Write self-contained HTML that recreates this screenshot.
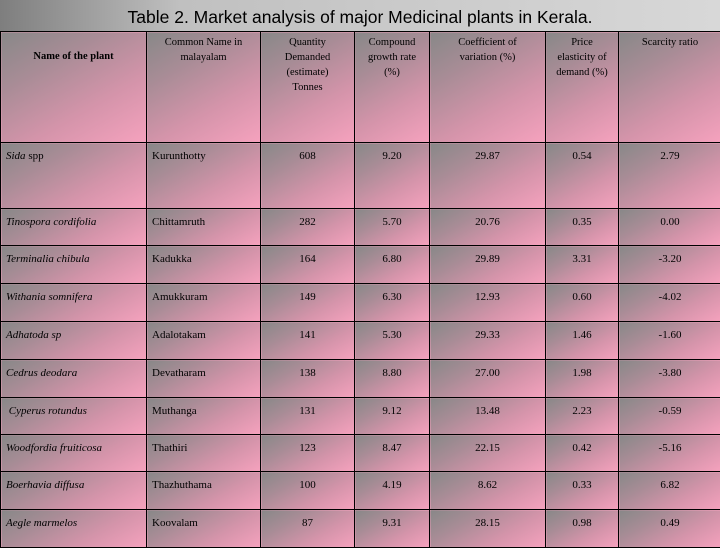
<!DOCTYPE html>
<html><head><meta charset="utf-8"><style>
body{margin:0;width:720px;height:540px;overflow:hidden;background:#f0a0b8;font-family:"Liberation Serif",serif;}
#title{position:absolute;left:0;top:0;width:720px;height:31px;background:linear-gradient(90deg,#7e7e7e 0%,#c0c0c0 25%,#d8d8d8 100%);font-family:"Liberation Sans",sans-serif;font-size:17.5px;text-align:center;line-height:34px;color:#000;}
table{position:absolute;left:0;top:31px;border-collapse:collapse;table-layout:fixed;width:721px;}
td{border:1px solid #000;background:linear-gradient(150deg,#888888 0%,#a88c96 30%,#d494aa 65%,#f6a2be 100%);font-size:11px;color:#000;vertical-align:top;padding:0;}
td.l{text-align:left;padding-left:5px;padding-top:7px;}
td.c{text-align:center;padding-top:7px;}
tr.h td{text-align:center;font-size:10.5px;line-height:15px;padding-top:3px;}
i{font-style:italic;}
</style></head><body>
<div id="title">Table 2. Market analysis of major Medicinal plants in Kerala.</div>
<table>
<colgroup><col style="width:146px"><col style="width:114px"><col style="width:94px"><col style="width:75px"><col style="width:116px"><col style="width:73px"><col style="width:103px"></colgroup>
<tr class="h" style="height:111px">
<td style="padding-top:17px"><b>Name of the plant</b></td>
<td>Common Name in<br>malayalam</td>
<td>Quantity<br>Demanded<br>(estimate)<br>Tonnes</td>
<td>Compound<br>growth rate<br>(%)</td>
<td>Coefficient of<br>variation (%)</td>
<td>Price<br>elasticity of<br>demand (%)</td>
<td>Scarcity ratio</td>
</tr>
<tr style="height:66px"><td class="l"><i>Sida</i> spp</td><td class="l">Kurunthotty</td><td class="c">608</td><td class="c">9.20</td><td class="c">29.87</td><td class="c">0.54</td><td class="c">2.79</td></tr>
<tr style="height:37px"><td class="l"><i>Tinospora cordifolia</i></td><td class="l">Chittamruth</td><td class="c">282</td><td class="c">5.70</td><td class="c">20.76</td><td class="c">0.35</td><td class="c">0.00</td></tr>
<tr style="height:38px"><td class="l"><i>Terminalia chibula</i></td><td class="l">Kadukka</td><td class="c">164</td><td class="c">6.80</td><td class="c">29.89</td><td class="c">3.31</td><td class="c">-3.20</td></tr>
<tr style="height:38px"><td class="l"><i>Withania somnifera</i></td><td class="l">Amukkuram</td><td class="c">149</td><td class="c">6.30</td><td class="c">12.93</td><td class="c">0.60</td><td class="c">-4.02</td></tr>
<tr style="height:38px"><td class="l"><i>Adhatoda sp</i></td><td class="l">Adalotakam</td><td class="c">141</td><td class="c">5.30</td><td class="c">29.33</td><td class="c">1.46</td><td class="c">-1.60</td></tr>
<tr style="height:38px"><td class="l"><i>Cedrus deodara</i></td><td class="l">Devatharam</td><td class="c">138</td><td class="c">8.80</td><td class="c">27.00</td><td class="c">1.98</td><td class="c">-3.80</td></tr>
<tr style="height:37px"><td class="l">&nbsp;<i>Cyperus rotundus</i></td><td class="l">Muthanga</td><td class="c">131</td><td class="c">9.12</td><td class="c">13.48</td><td class="c">2.23</td><td class="c">-0.59</td></tr>
<tr style="height:37px"><td class="l"><i>Woodfordia fruiticosa</i></td><td class="l">Thathiri</td><td class="c">123</td><td class="c">8.47</td><td class="c">22.15</td><td class="c">0.42</td><td class="c">-5.16</td></tr>
<tr style="height:38px"><td class="l"><i>Boerhavia diffusa</i></td><td class="l">Thazhuthama</td><td class="c">100</td><td class="c">4.19</td><td class="c">8.62</td><td class="c">0.33</td><td class="c">6.82</td></tr>
<tr style="height:38px"><td class="l"><i>Aegle marmelos</i></td><td class="l">Koovalam</td><td class="c">87</td><td class="c">9.31</td><td class="c">28.15</td><td class="c">0.98</td><td class="c">0.49</td></tr>
</table>
</body></html>
